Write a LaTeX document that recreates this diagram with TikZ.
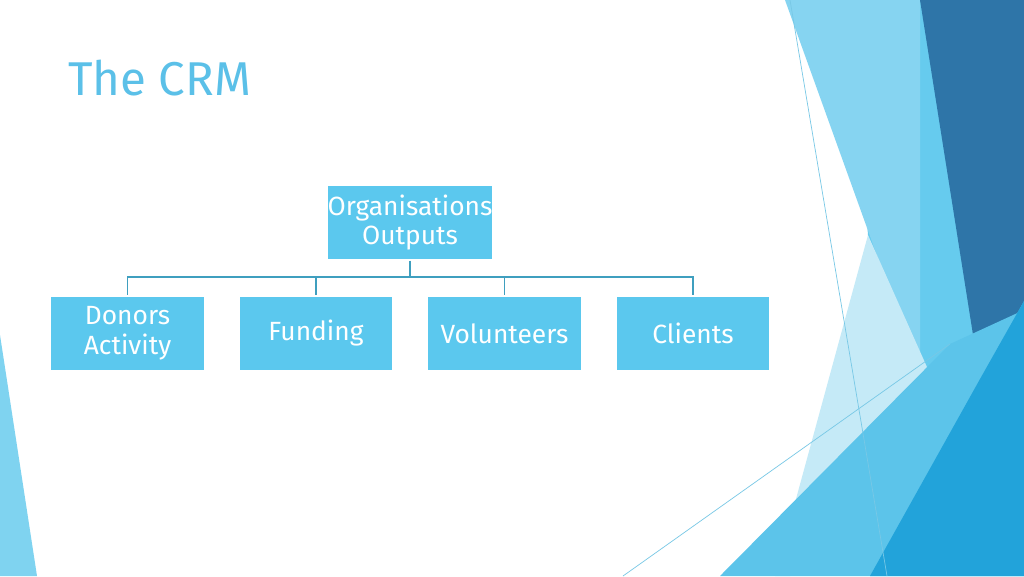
\documentclass[tikz,border=0pt]{standalone}
\usepackage{fontspec}
\setmainfont{Fira Sans}
\begin{document}
\begin{tikzpicture}[x=0.02cm,y=-0.02cm,
  box/.style={draw=white,line width=0.6pt,fill=boxc,minimum width=3.08cm,minimum height=1.5cm,align=center,text=white,font=\fontsize{15}{17}\selectfont,inner sep=0pt},
  link/.style={draw=linec,line width=0.8pt}]
\definecolor{boxc}{HTML}{5BC8EE}
\definecolor{linec}{HTML}{3F9FBF}
\definecolor{titlec}{HTML}{5BC0E8}
\useasboundingbox (0,0) rectangle (1024,576);
\fill[white] (0,0) rectangle (1024,576);
% decoration
\fill[color={rgb,255:red,102;green,203;blue,238}] (850,0) -- (1024,0) -- (1024,576) -- (930,576) -- (868,235) -- cycle;
\fill[color={rgb,255:red,134;green,212;blue,241}] (785,0) -- (920,0) -- (920,375) -- cycle;
\fill[color={rgb,255:red,197;green,234;blue,247}] (868,235) -- (935,385) -- (790,576) -- (775,576) -- cycle;
\fill[color={rgb,255:red,46;green,117;blue,168}] (920,0) -- (1024,0) -- (1024,301) -- (980,379) -- cycle;
\fill[color={rgb,255:red,92;green,196;blue,234}] (720,576) -- (950,344) -- (1024,310) -- (1024,576) -- cycle;
\fill[color={rgb,255:red,34;green,163;blue,218}] (870,576) -- (980,379) -- (1024,301) -- (1024,576) -- cycle;
\fill[color={rgb,255:red,127;green,211;blue,240}] (0,335) -- (37,576) -- (0,576) -- cycle;
\draw[color={rgb,255:red,120;green,200;blue,230},line width=0.4pt] (790,0) -- (887,576);
\draw[color={rgb,255:red,120;green,200;blue,230},line width=0.4pt] (623,576) -- (950,344);
% title
\node[anchor=west,text=titlec,font=\fontsize{27}{30}\selectfont] (title) at (62,78) {The CRM};
% boxes
\node[box] (top) at (410,222.5) {Organisations\\Outputs};
\node[box] (b1) at (127.5,333.5) {Donors\\Activity};
\node[box] (b2) at (316,333.5) {Funding};
\node[box] (b3) at (504.5,333.5) {Volunteers};
\node[box] (b4) at (693,333.5) {Clients};
\coordinate (hub) at (410,277);
\draw[link] (top.south) -- (hub);
\foreach \b in {b1,b2,b3,b4}{\draw[link] (hub) -| (\b.north);}
\end{tikzpicture}
\end{document}
